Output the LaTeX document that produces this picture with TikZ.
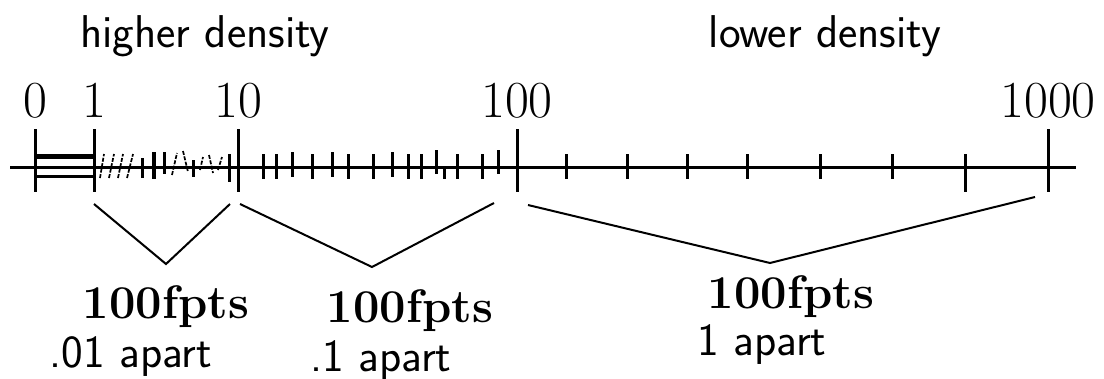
\documentclass[tikz,border=0pt]{standalone}
\usepackage{tikz}

\tikzset{
  numlab/.style={anchor=base,inner sep=0pt,font=\fontsize{52}{56}\selectfont},
  ptslab/.style={anchor=base,inner sep=0pt,font=\fontsize{47}{50}\selectfont\bfseries},
  txtlab/.style={anchor=base,inner sep=0pt,font=\fontsize{46}{50}\selectfont\sffamily},
  hatch/.style={line width=1.7pt,dash pattern=on 4pt off 1.5pt}
}

\begin{document}
\begin{tikzpicture}[x=1pt,y=-1pt]
\useasboundingbox (0,0) rectangle (1104,378);

% headings
\node[txtlab] (hi) at (205,47) {higher density};
\node[txtlab] (lo) at (825,47) {lower density};

% axis
\draw[line width=3pt] (10,167) -- (1076,167);

% major ticks and their numbers
\foreach \x/\lab/\nm in {35/0/n0, 94/1/n1, 238/10/n10, 517/100/n100, 1048/1000/n1000}{
  \draw[line width=3pt] (\x,129) -- (\x,192);
  \node[numlab] (\nm) at (\x,117) {\lab};
}

% the bit from 0 to 1
\draw[line width=5pt] (35,156) -- (94,156);
\draw[line width=3pt] (35,176) -- (94,176);

% 1 .. 10, squeezed
\foreach \xa/\xb in {100/104, 109/114, 118/123, 127/133}
  \draw[hatch] (\xa,178) -- (\xb,154);
\draw[hatch] (172,175) -- (177,153);
\draw[hatch] (183,151) -- (188,172);
\draw[hatch] (200,170) -- (203,157);
\draw[hatch] (209,155) -- (213,173);
\draw[hatch] (218,170) -- (222,157);
\draw[line width=3pt] (142,158) -- (142,178);
\draw[line width=4pt] (154,152) -- (154,179);
\draw[line width=3pt] (164,152) -- (164,174);
\draw[line width=3pt] (193,160) -- (193,177);
\draw[line width=3pt] (229,154) -- (229,182);

% 10 .. 100
\foreach \x/\ya/\yb in {263/154/179, 276/154/179, 292/152/177, 312/154/179,
    332/152/177, 348/154/179, 373/154/179, 392/152/177, 408/154/179,
    421/154/179, 436/150/174, 444/169/179, 457/154/179, 482/154/179, 498/150/174}
  \draw[line width=3pt] (\x,\ya) -- (\x,\yb);

% 100 .. 1000
\foreach \x in {566,627,687,747,820,892}
  \draw[line width=3pt] (\x,154) -- (\x,179);
\draw[line width=3pt] (965,154) -- (965,192);

% brackets underneath
\draw[line width=2pt] (94,204) -- (166,264) -- (230,204);
\draw[line width=2pt] (240,204) -- (372,267) -- (494,203);
\draw[line width=2pt] (528,205) -- (770,263) -- (1035,197);

% what each bracket holds
\node[ptslab] (p1) at (166,318) {100fpts};
\node[ptslab] (p2) at (410,322) {100fpts};
\node[ptslab] (p3) at (791,308) {100fpts};
\node[txtlab] (a1) at (131,367) {.01 apart};
\node[txtlab] (a2) at (381,371) {.1 apart};
\node[txtlab] (a3) at (762,355) {1 apart};

\end{tikzpicture}
\end{document}
